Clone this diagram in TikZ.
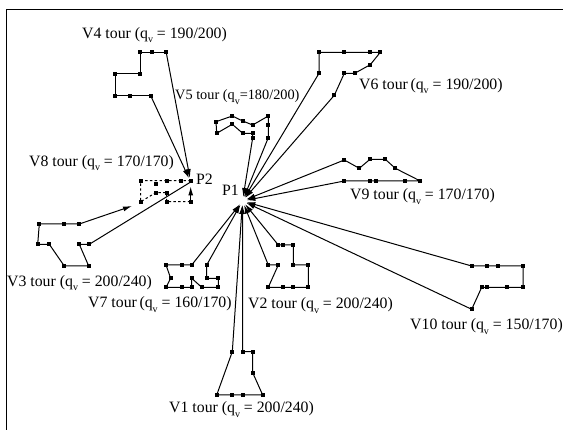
\documentclass[tikz,border=0pt]{standalone}
\usepackage{fontspec}
\setmainfont{Liberation Serif}
\usetikzlibrary{arrows.meta}
\newcommand{\qsub}{q\raisebox{-4.5pt}{\fontsize{10}{10}\selectfont v}}
% tour: cara pres zastavky #2-1 ... #2-#3 a ctverecky
\newcommand{\tourline}[3][tour]{%
  \draw[#1] (#2-1) \foreach \k in {2,...,#3} { -- (#2-\k) };
  \foreach \k in {1,...,#3} \fill (#2-\k) ++(-2pt,-2pt) rectangle ++(4pt,4pt);
}
\tikzset{
  tour/.style={line width=1pt},
  tourdash/.style={line width=1pt, dash pattern=on 2.4pt off 2.4pt},
  toP/.style={line width=1pt, shorten >=4pt, -{Latex[length=9pt,width=5pt]}},
  lbl/.style={anchor=base west, inner sep=0pt, font=\fontsize{15.8}{18}\selectfont},
}
\begin{document}
\begin{tikzpicture}[x=1pt,y=-1pt]
  \useasboundingbox (0,0) rectangle (563,430);
  % ramecek
  \draw[line width=1pt] (6.5,431) -- (6.5,10) -- (564,10);
  % depa
  \coordinate (P1) at (242.5,201);
  \coordinate (P2) at (190.7,182);
  \node[lbl] (p1lbl) at (222,196) {P1};
  \node[lbl] (p2lbl) at (196,185) {P2};
  % V4
  \foreach \n/\x/\y in {1/166.2/52.3, 2/151.5/52.3, 3/140/52.3, 4/140/74, 5/115.3/74,
    6/115.3/95.7, 7/130/95.7, 8/150.7/95.7}
    \coordinate (v4-\n) at (\x,\y);
  \tourline{v4}{8}
  \draw[toP] (v4-1) -- (P2);
  \draw[toP] (v4-8) -- (P2);
  \node[lbl] (v4lbl) at (82,38.3) {V4 tour (\qsub\ = 190/200)};
  % V5
  \foreach \n/\x/\y in {1/268.3/137.7, 2/268.3/125, 3/268.3/116, 4/252.7/125, 5/242.7/121,
    6/232.3/116, 7/216/121.7, 8/216.7/133.3, 9/232.3/124.3, 10/242.7/133.3,
    11/252.7/133.3, 12/252.7/137.7}
    \coordinate (v5-\n) at (\x,\y);
  \tourline{v5}{12}
  \draw[toP] (v5-1) -- (P1);
  \draw[toP] (v5-12) -- (P1);
  \node[lbl, font=\fontsize{14.3}{16}\selectfont] (v5lbl) at (175,100) {V5 tour (\qsub=180/200)};
  % V6
  \foreach \n/\x/\y in {1/319/73.3, 2/319/52.3, 3/344.3/52.3, 4/370.3/52.3, 5/380.3/52.3,
    6/370.3/64.7, 7/354.7/73.3, 8/344.3/73.3, 9/334.3/95.3}
    \coordinate (v6-\n) at (\x,\y);
  \tourline{v6}{9}
  \draw[toP] (v6-1) -- (P1);
  \draw[toP] (v6-9) -- (P1);
  \node[lbl] (v6lbl) at (359,89.3) {V6 tour\,(\qsub\ = 190/200)};
  % V9
  \foreach \n/\x/\y in {1/344.3/160, 2/359.3/168.3, 3/370/159.3, 4/385.3/159.3,
    5/395.3/168.3, 6/420.3/181, 7/405.3/181, 8/375.7/181, 9/370/181, 10/344.3/181}
    \coordinate (v9-\n) at (\x,\y);
  \tourline{v9}{10}
  \draw[toP] (v9-1) -- (P1);
  \draw[toP] (v9-10) -- (P1);
  \node[lbl] (v9lbl) at (350,200) {V9 tour (\qsub\ = 170/170)};
  % V10
  \foreach \n/\x/\y in {1/471.7/266, 2/487.3/266, 3/497.7/266, 4/523/266, 5/523/287.3,
    6/507.3/287.3, 7/487.3/287.3, 8/481.7/287.3, 9/471.7/309.3}
    \coordinate (v10-\n) at (\x,\y);
  \tourline{v10}{9}
  \draw[toP] (v10-1) -- (P1);
  \draw[toP] (v10-9) -- (P1);
  \node[lbl] (v10lbl) at (410,330) {V10 tour (\qsub\ = 150/170)};
  % V2
  \foreach \n/\x/\y in {1/278.3/245, 2/283.3/245, 3/293.3/245, 4/293.3/265, 5/308.3/265,
    6/308.3/287.3, 7/293.3/287.3, 8/283.3/287.3, 9/268.3/287.3, 10/278.3/265,
    11/268.3/265}
    \coordinate (v2-\n) at (\x,\y);
  \tourline{v2}{11}
  \draw[toP] (v2-1) -- (P1);
  \draw[toP] (v2-11) -- (P1);
  \node[lbl] (v2lbl) at (248,309) {V2 tour (\qsub\ = 200/240)};
  % V1
  \foreach \n/\x/\y in {1/242.7/351.7, 2/252.7/351.7, 3/252.7/372.7, 4/262.7/395,
    5/242.7/395, 6/232.3/395, 7/216.7/395, 8/232.3/351.7}
    \coordinate (v1-\n) at (\x,\y);
  \tourline{v1}{8}
  \draw[toP] (v1-1) -- (P1);
  \draw[toP] (v1-8) -- (P1);
  \node[lbl] (v1lbl) at (169,413) {V1 tour (\qsub\ = 200/240)};
  % V7
  \foreach \n/\x/\y in {1/191.7/265, 2/181.7/265, 3/166/265, 4/170.7/278.3, 5/166/287.3,
    6/181.7/287.3, 7/191.7/287.3, 8/191.7/278.3, 9/201.7/287.3, 10/218.3/287.3,
    11/218.3/278.3, 12/206.7/278.3, 13/206.7/265}
    \coordinate (v7-\n) at (\x,\y);
  \tourline{v7}{13}
  \draw[toP] (v7-1) -- (P1);
  \draw[toP] (v7-13) -- (P1);
  \node[lbl] (v7lbl) at (88,308) {V7 tour\,(\qsub\ = 160/170)};
  % V3
  \foreach \n/\x/\y in {1/79.3/224, 2/64.3/224, 3/39.3/224, 4/37.7/244.3, 5/49.3/244.3,
    6/64.3/266, 7/88.7/266, 8/79.3/244.3, 9/89.3/244.3}
    \coordinate (v3-\n) at (\x,\y);
  \coordinate (v3tip) at (132,206);
  \tourline{v3}{9}
  \draw[toP, shorten >=0pt] (v3-1) -- (v3tip);
  \draw[tour] (v3-9) -- (P2);
  \node[lbl] (v3lbl) at (7,286.5) {V3 tour (\qsub\ = 200/240)};
  % V8 (carkovane)
  \foreach \n/\x/\y in {1/190.7/180.7, 2/181/180.7, 3/166.7/180.7, 4/140.7/180.7,
    5/140.7/201.7, 6/155.7/192.7, 7/166.7/192.7, 8/166.7/201.7, 9/190.7/201.7}
    \coordinate (v8-\n) at (\x,\y);
  \coordinate (v8x) at (155.7,184.3);
  \tourline[tourdash]{v8}{9}
  \fill (v8x) ++(-2pt,-2pt) rectangle ++(4pt,4pt);
  \draw[toP, shorten >=0pt] (v8-9) -- (190.7,186.5);
  \node[lbl] (v8lbl) at (29,166.5) {V8 tour (\qsub\ = 170/170)};
\end{tikzpicture}
\end{document}
